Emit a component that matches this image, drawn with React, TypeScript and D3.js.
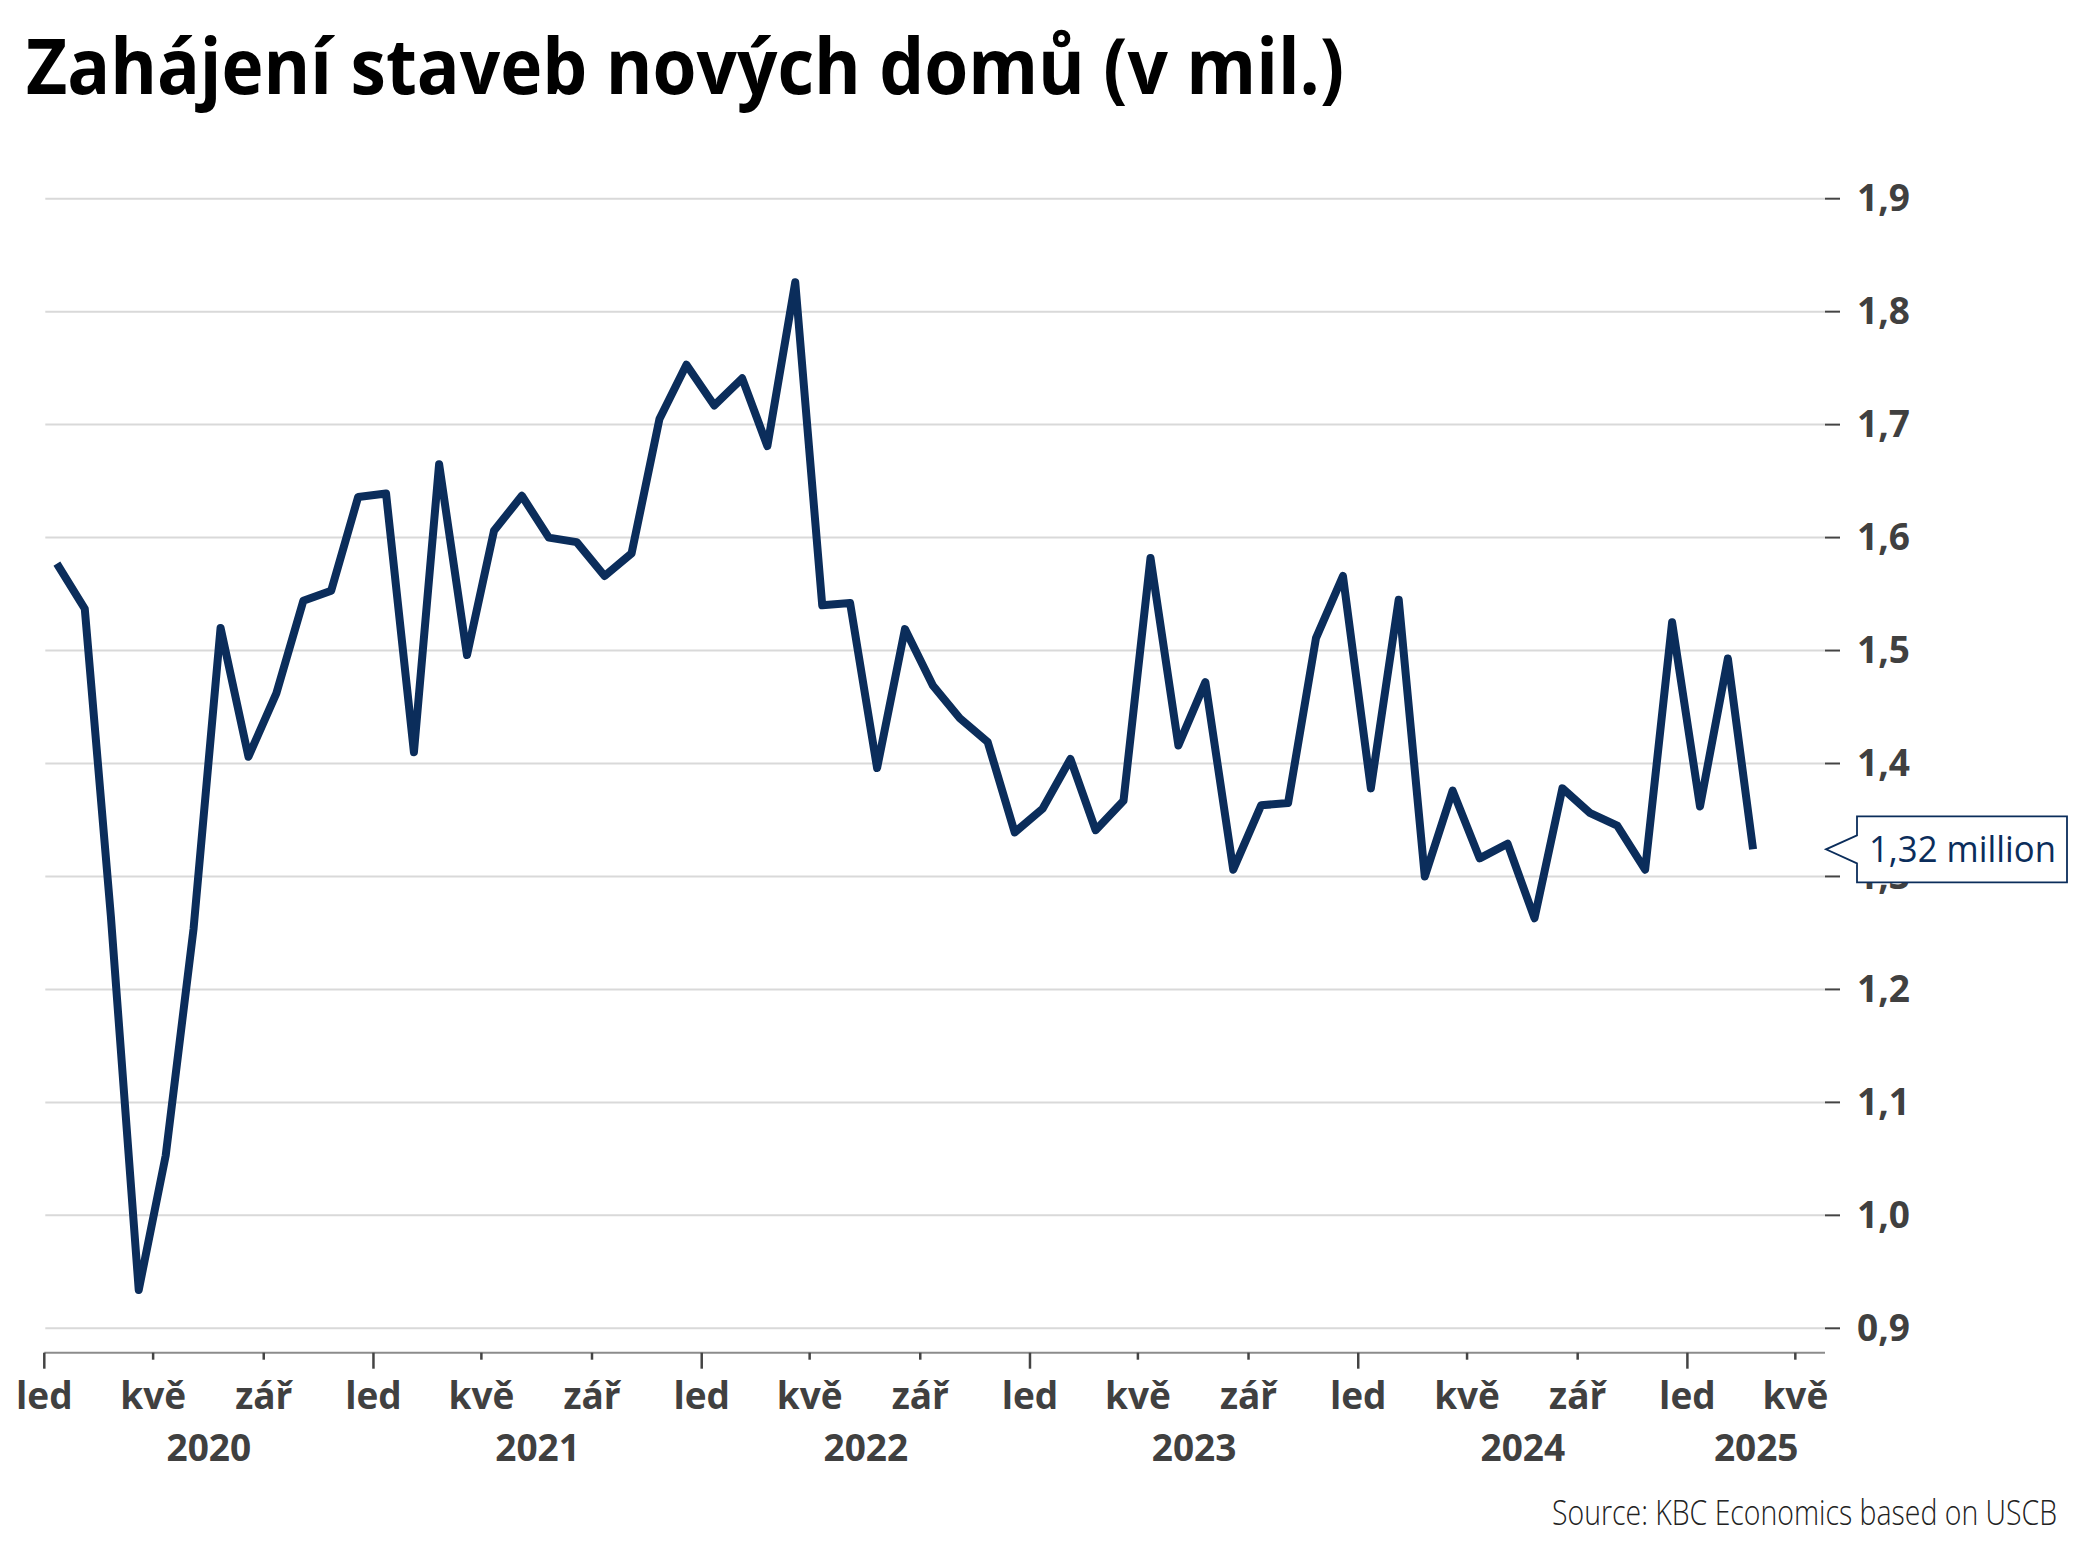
import * as d3 from "d3";

// Housing starts, millions (SAAR), monthly Jan 2020 - Mar 2025
const starts2020 = [1.577, 1.537, 1.265, 0.934, 1.053, 1.254, 1.52, 1.406, 1.462, 1.544, 1.553, 1.636];
const starts2021 = [1.639, 1.41, 1.665, 1.496, 1.606, 1.637, 1.6, 1.596, 1.566, 1.586, 1.705, 1.753];
const starts2022 = [1.717, 1.741, 1.681, 1.826, 1.54, 1.542, 1.396, 1.519, 1.469, 1.44, 1.419, 1.339];
const starts2023 = [1.36, 1.404, 1.341, 1.367, 1.582, 1.416, 1.472, 1.306, 1.363, 1.365, 1.511, 1.566];
const starts2024 = [1.378, 1.545, 1.3, 1.376, 1.316, 1.329, 1.263, 1.378, 1.356, 1.345, 1.306, 1.525];
const starts2025 = [1.362, 1.493, 1.324];

const years = [2020, 2021, 2022, 2023, 2024, 2025];
const seriesByYear = [starts2020, starts2021, starts2022, starts2023, starts2024, starts2025];
const monthTickLabels = ["led", "kvě", "zář"];
const yTicks = [0.9, 1.0, 1.1, 1.2, 1.3, 1.4, 1.5, 1.6, 1.7, 1.8, 1.9];

const title = "Zahájení staveb nových domů (v mil.)";
const source = "Source: KBC Economics based on USCB";

const W = 2093;
const H = 1568;
const navy = "#0b2d5b";
const labelColor = "#404040";
const font = "'Open Sans', 'Noto Sans', sans-serif";

type Pt = { date: Date; value: number };

const data: Pt[] = seriesByYear.flatMap((vals, yi) =>
  vals.map((v, m) => ({ date: new Date(years[yi], m, 15), value: v }))
);

export default function App() {
  const x = d3
    .scaleTime()
    .domain([new Date(2020, 0, 1), new Date(2025, 5, 3)])
    .range([44.3, 1825]);
  const y = d3.scaleLinear().domain([0.9, 1.9]).range([1328.3, 198.7]);

  const line = d3
    .line<Pt>()
    .x((d) => x(d.date))
    .y((d) => y(d.value));

  const fmtY = (v: number) => d3.format(".1f")(v).replace(".", ",");
  const xTicks = x.ticks(d3.timeMonth.every(4)!);
  const [x0, x1] = x.range();
  const axisY = 1352.7;

  const last = data[data.length - 1];
  const tipX = x1 + 1;
  const tipY = y(last.value);
  const boxL = tipX + 31;
  const boxR = boxL + 210;
  const callout = `M${boxL},${tipY - 33} L${boxR},${tipY - 33} L${boxR},${tipY + 33} L${boxL},${tipY + 33} L${boxL},${tipY + 14} L${tipX},${tipY} L${boxL},${tipY - 14} Z`;

  return (
    <div style={{ position: "absolute", left: 0, top: 0 }}>
      <svg width={W} height={H} style={{ display: "block", background: "#fff" }}>
        <text
          x={26}
          y={94}
          fontFamily={font}
          fontWeight={700}
          fontSize={77}
          fill="#000"
          textLength={1318}
          lengthAdjust="spacingAndGlyphs"
        >
          {title}
        </text>

        {/* grid + right axis */}
        {yTicks.map((t) => (
          <g key={t}>
            <line x1={x0 + 1} x2={x1} y1={y(t)} y2={y(t)} stroke="#d9d9d9" strokeWidth={2} />
            <line x1={x1} x2={x1 + 15} y1={y(t)} y2={y(t)} stroke="#444" strokeWidth={2} />
            <text
              x={1857}
              y={y(t)}
              dy="0.34em"
              fontFamily={font}
              fontWeight={700}
              fontSize={37}
              fill={labelColor}
            >
              {fmtY(t)}
            </text>
          </g>
        ))}

        {/* x axis */}
        <line x1={x0} x2={x1} y1={axisY} y2={axisY} stroke="#8c8c8c" strokeWidth={2} />
        {xTicks.map((t) => {
          const major = t.getMonth() === 0;
          return (
            <g key={t.getTime()}>
              <line
                x1={x(t)}
                x2={x(t)}
                y1={axisY}
                y2={axisY + (major ? 16 : 7)}
                stroke="#444"
                strokeWidth={2.5}
              />
              <text
                x={x(t)}
                y={1409}
                textAnchor="middle"
                fontFamily={font}
                fontWeight={700}
                fontSize={37}
                fill={labelColor}
              >
                {monthTickLabels[t.getMonth() / 4]}
              </text>
            </g>
          );
        })}
        {years.map((yr) => {
          const a = x(new Date(yr, 0, 1));
          const b = Math.min(x(new Date(yr + 1, 0, 1)), x1);
          return (
            <text
              key={yr}
              x={(a + b) / 2}
              y={1461}
              textAnchor="middle"
              fontFamily={font}
              fontWeight={700}
              fontSize={37}
              fill={labelColor}
            >
              {yr}
            </text>
          );
        })}

        {/* series */}
        <path
          d={line(data) || ""}
          fill="none"
          stroke={navy}
          strokeWidth={8}
          strokeLinejoin="round"
          strokeLinecap="butt"
        />

        {/* last value callout */}
        <path d={callout} fill="#fff" stroke={navy} strokeWidth={1.8} />
        <text
          x={boxL + 12}
          y={tipY + 13}
          fontFamily={font}
          fontSize={37}
          fill={navy}
          textLength={187}
          lengthAdjust="spacingAndGlyphs"
        >
          {d3.format(".2f")(last.value).replace(".", ",")} million
        </text>

        <text
          x={2057}
          y={1525}
          textAnchor="end"
          fontFamily={font}
          fontWeight={300}
          fontSize={34}
          fill="#222"
          textLength={505}
          lengthAdjust="spacingAndGlyphs"
        >
          {source}
        </text>
      </svg>
    </div>
  );
}
